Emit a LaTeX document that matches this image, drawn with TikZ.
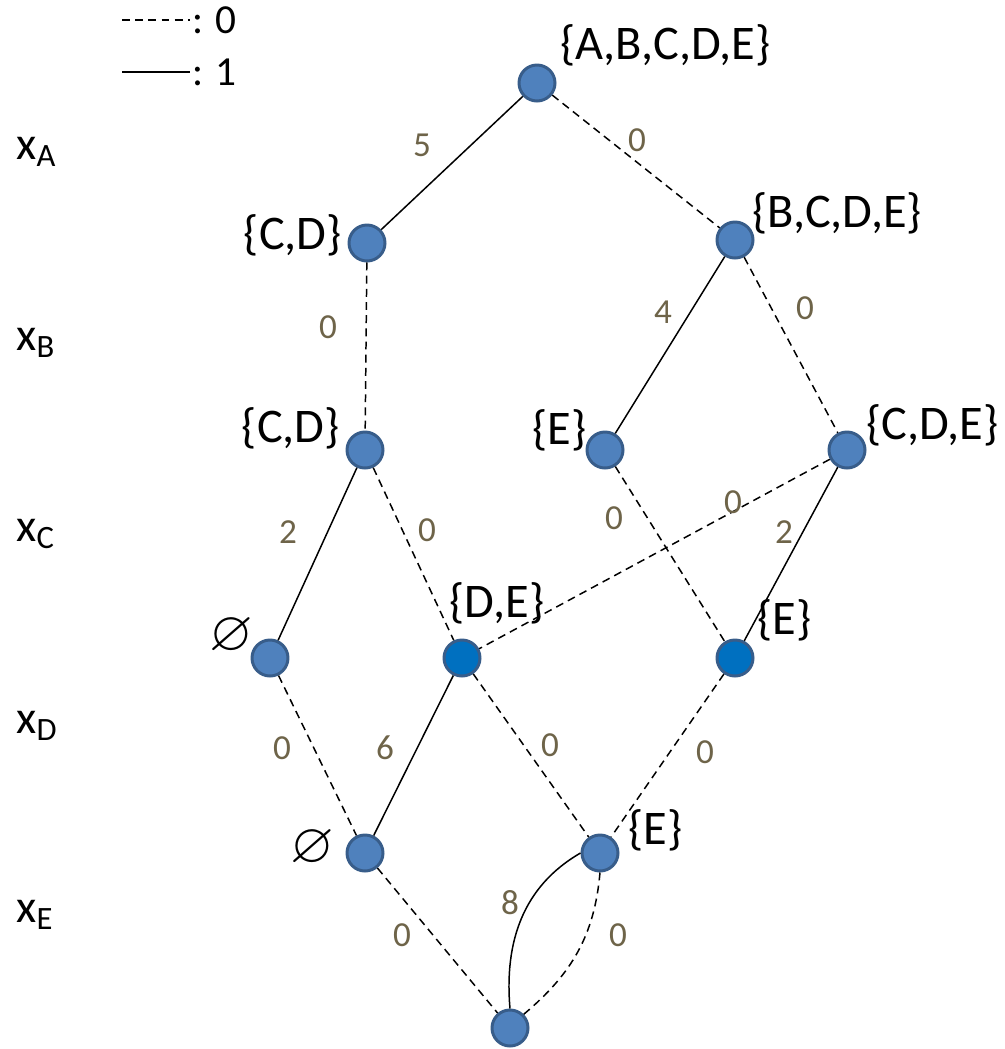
\documentclass[tikz,border=0pt]{standalone}
\usepackage{amssymb}
\usepackage{fontspec}
\setmainfont{Carlito}
\usepackage{tikz}
\usetikzlibrary{positioning}
\definecolor{nodefill}{HTML}{4F81BD}
\definecolor{nodeline}{HTML}{385D8A}
\definecolor{deepfill}{HTML}{0070C0}
\definecolor{weightcol}{HTML}{6E6449}

\begin{document}
\begin{tikzpicture}[
    x=0.02cm, y=-0.02cm,
    vert/.style={circle, draw=nodeline, fill=nodefill, line width=1.7pt,
                 minimum size=0.72cm, inner sep=0pt},
    vertdeep/.style={vert, fill=deepfill},
    setlbl/.style={font=\fontsize{27.5}{31}\selectfont, inner sep=0pt},
    varlbl/.style={font=\fontsize{26.5}{30}\selectfont, inner sep=0pt, anchor=west},
    wt/.style={font=\fontsize{20}{24}\selectfont, text=weightcol, inner sep=0pt},
    zero/.style={dashed, dash pattern=on 4.5pt off 3pt, line width=0.85pt},
    one/.style={line width=0.85pt},
]
    \useasboundingbox (0,0) rectangle (1005,1049);

    % Legend
    \coordinate (lz1) at (122,20);
    \coordinate (lz2) at (190,20);
    \coordinate (lo1) at (122,72);
    \coordinate (lo2) at (190,72);
    \draw[zero] (lz1) -- (lz2) node[right, inner sep=1pt, font=\fontsize{23.5}{26}\selectfont] (lzt) {: 0};
    \draw[one] (lo1) -- (lo2) node[right, inner sep=1pt, font=\fontsize{23.5}{26}\selectfont] (lot) {: 1};

    % Variables
    \node[varlbl] (xa) at (16,152) {x\textsubscript{A}};
    \node[varlbl] (xb) at (16,343) {x\textsubscript{B}};
    \node[varlbl] (xc) at (16,534) {x\textsubscript{C}};
    \node[varlbl] (xd) at (16,726) {x\textsubscript{D}};
    \node[varlbl] (xe) at (16,915) {x\textsubscript{E}};

    % Vertices
    \node[vert] (abcde) at (537,83) {};
    \node[vert] (cd1) at (367,243) {};
    \node[vert] (bcde) at (735,240) {};
    \node[vert] (cd2) at (365,450) {};
    \node[vert] (e1) at (605,450) {};
    \node[vert] (cde) at (847,450) {};
    \node[vert] (nil1) at (270,658) {};
    \node[vertdeep] (de) at (462,658) {};
    \node[vertdeep] (e2) at (735,658) {};
    \node[vert] (nil2) at (365,853) {};
    \node[vert] (e3) at (600,853) {};
    \node[vert] (sink) at (510,1028) {};

    % Sets
    \node[setlbl, anchor=west] (sabcde) at (560,45) {\{A,B,C,D,E\}};
    \node[setlbl, anchor=east] (scd1) at (342,235) {\{C,D\}};
    \node[setlbl, anchor=west] (sbcde) at (752,213) {\{B,C,D,E\}};
    \node[setlbl, anchor=east] (scd2) at (340,428) {\{C,D\}};
    \node[setlbl, anchor=east] (se1) at (587,430) {\{E\}};
    \node[setlbl, anchor=west] (scde) at (866,425) {\{C,D,E\}};
    \node[setlbl, font=\fontsize{32}{34}\selectfont] (snil1) at (231,636) {$\varnothing$};
    \node[setlbl] (sde) at (497,603) {\{D,E\}};
    \node[setlbl, anchor=west] (se2) at (757,620) {\{E\}};
    \node[setlbl, font=\fontsize{32}{34}\selectfont] (snil2) at (312,848) {$\varnothing$};
    \node[setlbl, anchor=west] (se3) at (628,830) {\{E\}};

    % Edges
    \draw[one] (abcde) -- (cd1);
    \draw[zero] (abcde) -- (bcde);
    \draw[zero] (cd1) -- (cd2);
    \draw[one] (bcde) -- (e1);
    \draw[zero] (bcde) -- (cde);
    \draw[one] (cd2) -- (nil1);
    \draw[zero] (cd2) -- (de);
    \draw[zero] (e1) -- (e2);
    \draw[zero] (cde) -- (de);
    \draw[one] (cde) -- (e2);
    \draw[zero] (nil1) -- (nil2);
    \draw[one] (de) -- (nil2);
    \draw[zero] (de) -- (e3);
    \draw[zero] (e2) -- (e3);
    \draw[zero] (nil2) -- (sink);
    \draw[one] (e3.west) to[out=210, in=95] (sink.north);
    \draw[zero] (e3.south) to[out=-95, in=40] (sink.north east);

    % Weights
    \node[wt] (w1) at (422,145) {5};
    \node[wt] (w2) at (637,140) {0};
    \node[wt] (w3) at (328,327) {0};
    \node[wt] (w4) at (663,312) {4};
    \node[wt] (w5) at (805,308) {0};
    \node[wt] (w6) at (288,532) {2};
    \node[wt] (w7) at (427,530) {0};
    \node[wt] (w8) at (614,518) {0};
    \node[wt] (w9) at (733,502) {0};
    \node[wt] (w10) at (784,532) {2};
    \node[wt] (w11) at (282,748) {0};
    \node[wt] (w12) at (385,748) {6};
    \node[wt] (w13) at (550,745) {0};
    \node[wt] (w14) at (705,752) {0};
    \node[wt] (w15) at (402,935) {0};
    \node[wt] (w16) at (510,903) {8};
    \node[wt] (w17) at (618,935) {0};
\end{tikzpicture}
\end{document}
